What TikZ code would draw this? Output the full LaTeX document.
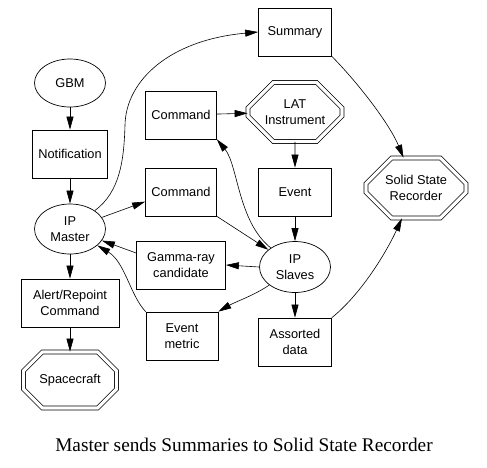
\documentclass[tikz,border=0pt]{standalone}
\usepackage{fontspec}
\setmainfont{Liberation Sans}
\newfontfamily\capfont{Liberation Serif}
\usetikzlibrary{shapes.geometric,shapes.misc}
\usetikzlibrary{arrows.meta}

\begin{document}
\begin{tikzpicture}[
    x=1pt, y=-1pt,
    box/.style={
        draw, rectangle, minimum width=71pt, minimum height=48pt, inner sep=2pt,
        line width=0.7pt, align=center, font=\fontsize{12.8}{16}\selectfont
    },
    oval/.style={
        draw, ellipse, minimum width=71pt, minimum height=48pt, inner sep=0pt,
        line width=0.7pt, align=center, font=\fontsize{12.8}{16}\selectfont
    },
    octo/.style={
        draw, chamfered rectangle, chamfered rectangle xsep=29pt,
        chamfered rectangle ysep=13pt, double, double distance=3.2pt,
        line width=0.7pt, inner sep=0pt, align=center,
        font=\fontsize{12.8}{16}\selectfont
    },
    conn/.style={-{Triangle[length=13pt,width=7pt]}, line width=0.6pt},
]
\useasboundingbox (0,0) rectangle (487,467);

% Left column
\node[oval] (gbm)     at (70,83)  {GBM};
\node[box, minimum width=75pt] (notif) at (70,154) {Notification};
\node[oval, minimum height=50pt] (master) at (70,229) {IP\\Master};
\node[box, minimum width=98pt] (alert) at (70,303) {Alert/Repoint\\Command};
\node[octo, minimum width=93pt, minimum height=56pt] (craft) at (70,380) {Spacecraft};

% Middle column
\node[box] (cmdA)   at (181,115) {Command};
\node[box] (cmdB)   at (181,192) {Command};
\node[box, minimum width=89pt] (gamma) at (181,265) {Gamma-ray\\candidate};
\node[box, minimum width=72pt] (metric) at (182,336) {Event\\metric};

% Right column
\node[box, minimum width=73pt] (summary) at (295,32) {Summary};
\node[octo, minimum width=94pt, minimum height=59pt] (lat) at (295,112) {LAT\\Instrument};
\node[box, minimum width=73pt] (event) at (295,192) {Event};
\node[oval, minimum height=51pt] (slaves) at (295,267) {IP\\Slaves};
\node[box, minimum width=73pt] (assorted) at (295,342) {Assorted\\data};
\node[octo, minimum width=100pt, minimum height=60pt] (ssr) at (416,188) {Solid State\\Recorder};

% Caption
\node[font=\capfont\fontsize{19.3}{22}\selectfont] (caption) at (244,445)
    {Master sends Summaries to Solid State Recorder};

% Straight connections
\draw[conn] (gbm)    -- (notif);
\draw[conn] (notif)  -- (master);
\draw[conn] (master) -- (alert);
\draw[conn] (alert)  -- (craft);
\draw[conn] (master) -- (cmdB.195);
\draw[conn] (cmdA)   -- (lat);
\draw[conn] (lat)    -- (event);
\draw[conn] (event)  -- (slaves);
\draw[conn] (slaves.west) -- (gamma.east);
\draw[conn] (slaves) -- (assorted);
\draw[conn] (gamma.165) -- (master);
\draw[conn] (cmdB.south east) -- (slaves);

% Curved connections
\draw[conn] (master) .. controls (120,192) and (124,160) .. (125,125)
    .. controls (126,80) and (170,40) .. (summary.west);
\draw[conn] (slaves) .. controls (238,222) and (238,165) .. (cmdA.south east);
\draw[conn] (metric.north west) .. controls (130,295) and (125,262) .. (master);
\draw[conn] (slaves) .. controls (255,295) and (235,302) .. (metric.north east);
\draw[conn] (summary.south east) .. controls (360,85) and (390,125) .. (ssr);
\draw[conn] (assorted.north east) .. controls (360,295) and (385,255) .. (ssr);

\end{tikzpicture}
\end{document}
